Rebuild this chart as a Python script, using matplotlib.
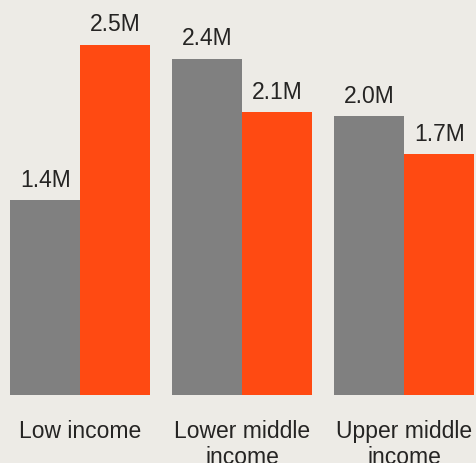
import numpy as np
import matplotlib.pyplot as plt

# values in millions
categories = ['Low income', 'Lower middle\nincome', 'Upper middle\nincome']
grey_values = [1.39, 2.40, 1.99]
orange_values = [2.50, 2.02, 1.72]
grey_labels = ['1.4M', '2.4M', '2.0M']
orange_labels = ['2.5M', '2.1M', '1.7M']

BG = '#EDEBE6'
GREY = '#808080'
ORANGE = '#FF4A12'
TEXT = '#252423'

plt.rcParams['font.family'] = ['Liberation Sans', 'DejaVu Sans']

dpi = 100
fig = plt.figure(figsize=(4.77, 4.64), dpi=dpi, facecolor=BG)
ax = fig.add_axes([0, 0, 1, 1], facecolor=BG)

px_per_unit = 162.0
px_per_m = 140.0
x0_px = 80.5
base_px = 396.0
ax.set_xlim(-x0_px / px_per_unit, (477 - x0_px) / px_per_unit)
ax.set_ylim(-(464 - base_px) / px_per_m, base_px / px_per_m)

x = np.arange(len(categories))
w = 70.0 / px_per_unit
ax.bar(x - w / 2, grey_values, width=w, color=GREY)
ax.bar(x + w / 2, orange_values, width=w, color=ORANGE)

fs = 16.5
for xi, v, lab in zip(x - w / 2, grey_values, grey_labels):
    ax.annotate(lab, (xi, v), xytext=(0, 10.5), textcoords='offset points',
                ha='center', va='baseline', fontsize=fs, color=TEXT)
for xi, v, lab in zip(x + w / 2, orange_values, orange_labels):
    ax.annotate(lab, (xi, v), xytext=(0, 10.5), textcoords='offset points',
                ha='center', va='baseline', fontsize=fs, color=TEXT)

for xi, cat in zip(x, categories):
    ax.annotate(cat, (xi, 0), xytext=(0, -17), textcoords='offset points',
                ha='center', va='top', fontsize=fs, color=TEXT,
                linespacing=1.2)

ax.set_axis_off()
fig.savefig('out.png', dpi=dpi, facecolor=BG)
